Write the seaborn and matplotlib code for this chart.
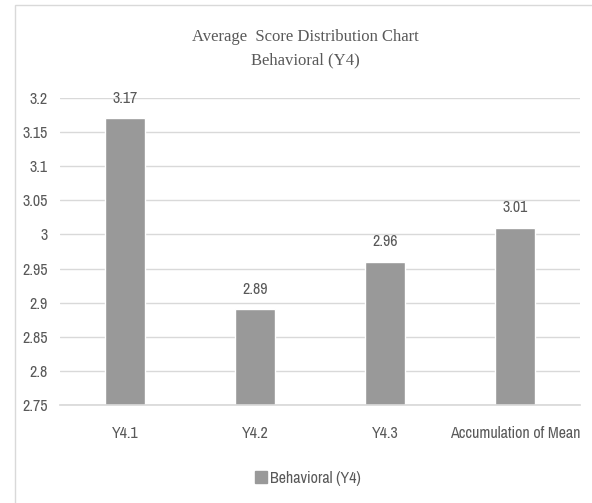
import matplotlib
matplotlib.use("Agg")
import matplotlib.pyplot as plt
import seaborn as sns
import pandas as pd
from matplotlib.patches import Rectangle
from matplotlib.font_manager import fontManager

categories = ["Y4.1", "Y4.2", "Y4.3", "Accumulation of Mean"]
values = [3.17, 2.89, 2.96, 3.01]
series_name = "Behavioral (Y4)"
yticks = [2.75, 2.8, 2.85, 2.9, 2.95, 3.0, 3.05, 3.1, 3.15, 3.2]
ytick_labels = ["2.75", "2.8", "2.85", "2.9", "2.95", "3", "3.05", "3.1", "3.15", "3.2"]
title_text = "Average  Score Distribution Chart\nBehavioral (Y4)"

sns.set_theme(style="white")
names = {f.name for f in fontManager.ttflist}
sans = next((n for n in ["Archivo Narrow", "PT Sans Narrow", "Roboto Condensed", "Liberation Sans"] if n in names), "DejaVu Sans")
plt.rcParams['font.family'] = [sans, 'DejaVu Sans']

df = pd.DataFrame({"category": categories, "value": values, "series": series_name})

fig = plt.figure(figsize=(5.92, 5.03), dpi=100)
ax = fig.add_axes([60/592, 98/503, 520/592, 307/503])
bar_color = "#999999"
text_color = "#595959"
sns.barplot(data=df, x="category", y="value", hue="series", palette=[bar_color],
            width=0.31, ax=ax, legend=False)
ax.set_ylim(2.75, 3.2)
ax.set_yticks(yticks)
ax.set_yticklabels(ytick_labels)
ax.yaxis.grid(True, color="#d9d9d9", linewidth=1)
ax.set_axisbelow(True)
for s in ax.spines.values():
    s.set_visible(False)
ax.spines['bottom'].set_visible(True)
ax.spines['bottom'].set_color("#d9d9d9")
ax.tick_params(axis='both', length=0, colors=text_color, labelsize=11.5)
ax.tick_params(axis='x', pad=15)
ax.tick_params(axis='y', pad=9)
ax.set_xlabel("")
ax.set_ylabel("")
for c in ax.containers:
    ax.bar_label(c, labels=[f"{v:.2f}" for v in values], padding=9, color=text_color, fontsize=11.5)

fig.text(305/592, 1 - 49/503, title_text,
         ha="center", va="center", family="Liberation Serif", fontsize=12,
         color=text_color, linespacing=1.6)

handle = Rectangle((0, 0), 1, 1, color=bar_color)
fig.legend([handle], [series_name], loc="center", bbox_to_anchor=(308/592, 1 - 478/503),
           frameon=False, fontsize=11.5, labelcolor=text_color, handlelength=0.7,
           handleheight=0.7, handletextpad=0.2)

fig.patches.append(Rectangle((15/592, -0.01), 1, 1 - 5/503 + 0.01, transform=fig.transFigure,
                             fill=False, edgecolor="#d9d9d9", linewidth=1))
fig.savefig("out.png", dpi=100)
